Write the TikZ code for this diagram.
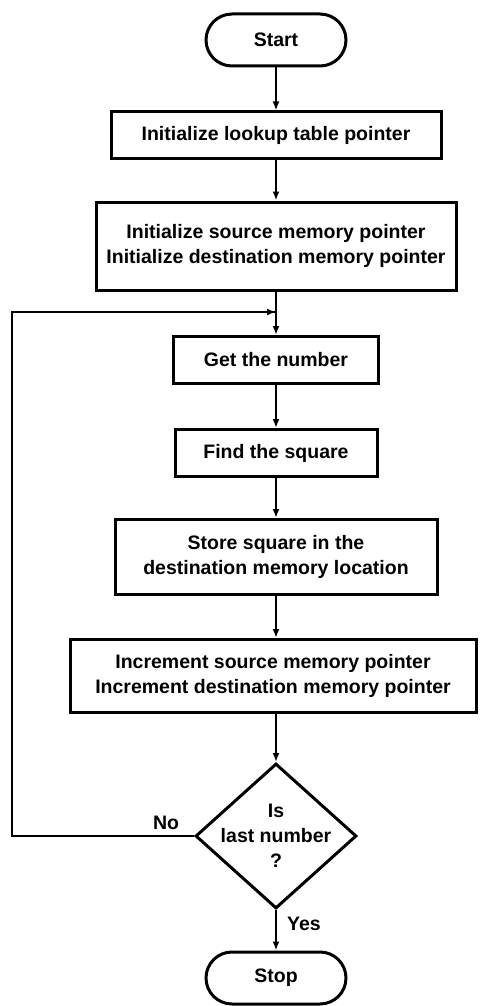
\documentclass[tikz,border=0pt]{standalone}
\usepackage{fontspec}
\setmainfont{Liberation Sans}
\usetikzlibrary{shapes.geometric,arrows.meta}
\begin{document}
\begin{tikzpicture}[x=1pt,y=-1pt,
  every node/.style={font=\fontsize{19.5}{25}\selectfont\bfseries, align=center, inner sep=0pt},
  box/.style={draw, line width=3pt, rectangle},
  term/.style={draw, line width=3pt, rectangle, rounded corners=26pt, minimum width=140pt, minimum height=52pt},
  conn/.style={line width=2.6pt, -{Latex[length=9pt,width=7pt]}},
  plain/.style={line width=2.6pt}
]
\useasboundingbox (0,0) rectangle (479,1006);
\node[term] (start) at (276,40) {Start};
\node[box, minimum width=330pt, minimum height=46pt] (b1) at (276,135) {Initialize lookup table pointer};
\node[box, minimum width=360pt, minimum height=88pt] (b2) at (276,246) {Initialize source memory pointer\\Initialize destination memory pointer};
\node[box, minimum width=205pt, minimum height=47pt] (get) at (276,360) {Get the number};
\node[box, minimum width=202pt, minimum height=47pt] (find) at (276,453) {Find the square};
\node[box, minimum width=322pt, minimum height=75pt] (store) at (276,557) {Store square in the\\destination memory location};
\node[box, minimum width=406pt, minimum height=73pt] (inc) at (273,676) {Increment source memory pointer\\Increment destination memory pointer};
\node[draw, diamond, line width=3pt, minimum width=161pt, minimum height=145pt] (dec) at (276,836) {};
\node (dtext) at (dec.center) {Is\\last number\\?};
\node[term] (stop) at (276,978) {Stop};
\node (no) at (166,823) {No};
\node (yes) at (304,924) {Yes};
\coordinate (j) at (276,312);
\coordinate (lb) at (12,836);
\coordinate (lt) at (12,312);
\draw[conn] (start) -- (b1);
\draw[conn] (b1) -- (b2);
\draw[conn] (b2) -- (get);
\draw[conn] (get) -- (find);
\draw[conn] (find) -- (store);
\draw[conn] (store) -- (inc.north -| store.south);
\draw[conn] (inc.south -| dec.north) -- (dec.north);
\draw[conn] (dec) -- (stop);
\draw[plain, line join=miter] (dec.west) -- (lb) -- (lt) -- (j);
\draw[conn] (lt) -- (j);
\end{tikzpicture}
\end{document}
